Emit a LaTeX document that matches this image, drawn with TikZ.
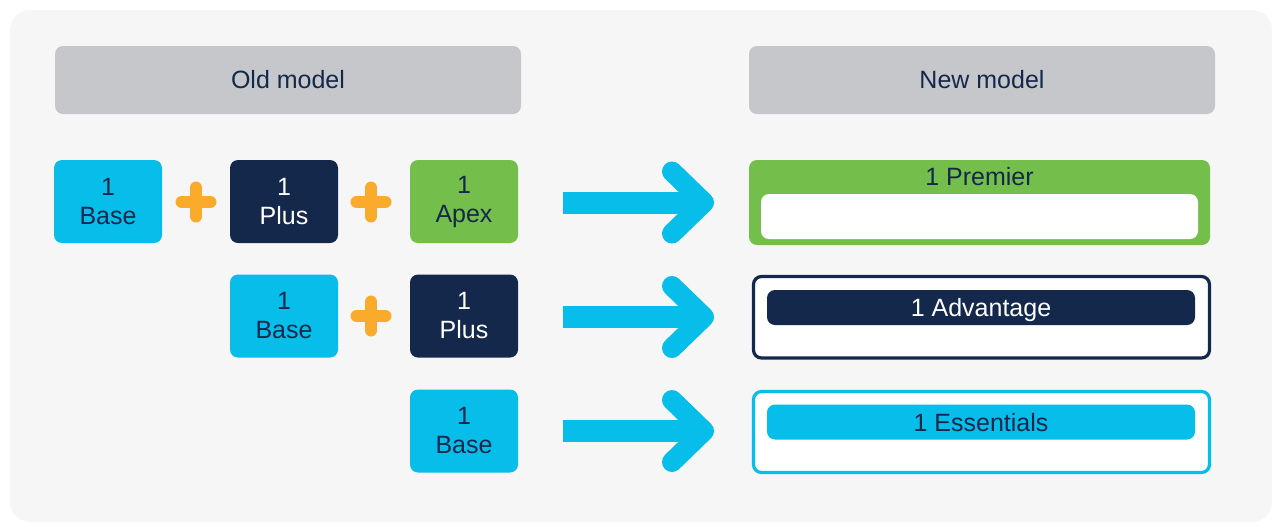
\documentclass[tikz,border=0pt]{standalone}
\usepackage{fontspec}
\setmainfont{Liberation Sans}
\usetikzlibrary{calc}
\definecolor{bggray}{HTML}{F6F6F6}
\definecolor{headgray}{HTML}{C6C7CA}
\definecolor{skyblue}{HTML}{07BDEA}
\definecolor{navyblue}{HTML}{14284B}
\definecolor{leafgreen}{HTML}{74BF4B}
\definecolor{plusorange}{HTML}{FBAB2C}
\tikzset{
	header/.style={fill=headgray, rounded corners=4pt, minimum width=233pt, minimum height=34pt, inner sep=0pt, text=navyblue},
	oldbox/.style={rounded corners=4pt, minimum width=54pt, minimum height=41.5pt, inner sep=0pt, align=center, font=\fontsize{12.5}{14.5}\selectfont},
	barbox/.style={rounded corners=4pt, minimum width=214pt, minimum height=17.5pt, inner sep=0pt, text height=9pt, text depth=0pt},
}
\def\plussign(#1){\draw[line width=6pt, line cap=round, color=plusorange] ($(#1)+(-14.5,0)$) -- ($(#1)+(14.5,0)$) ($(#1)+(0,-14.5)$) -- ($(#1)+(0,14.5)$);}
\def\bigarrow(#1){\draw[line width=11pt, color=skyblue] (#1) -- ($(#1)+(137,0)$);
	\draw[line width=10pt, line cap=round, line join=round, color=skyblue] ($(#1)+(109,-31)$) -- ($(#1)+(141,0)$) -- ($(#1)+(109,31)$);}

\begin{document}
\begin{tikzpicture}[x=0.5pt, y=-0.5pt, font=\fontsize{12.5}{14.5}\selectfont]
			%%%%% START %%%%%
			\useasboundingbox (0, 0) rectangle (1280, 527);
			\fill[bggray, rounded corners=10pt] (10, 10) rectangle (1272, 522);
			
			\node[header] (oldhead) at (288, 80) {Old model};
			\node[header] (newhead) at (982, 80) {New model};
			
			% old model rows
			\node[oldbox, fill=skyblue, text=navyblue] (baseA) at (108, 201.5) {1\\Base};
			\node[oldbox, fill=navyblue, text=white] (plusA) at (284, 201.5) {1\\Plus};
			\node[oldbox, fill=leafgreen, text=navyblue] (apexA) at (464, 201.5) {1\\Apex};
			\plussign(196, 202);
			\plussign(371, 202);
			
			\node[oldbox, fill=skyblue, text=navyblue] (baseB) at (284, 316) {1\\Base};
			\node[oldbox, fill=navyblue, text=white] (plusB) at (464, 316) {1\\Plus};
			\plussign(371, 316);
			
			\node[oldbox, fill=skyblue, text=navyblue] (baseC) at (464, 431) {1\\Base};
			
			% arrows
			\coordinate (arrA) at (563, 202.5);
			\coordinate (arrB) at (563, 317);
			\coordinate (arrC) at (563, 431);
			\bigarrow(arrA);
			\bigarrow(arrB);
			\bigarrow(arrC);
			
			% new model
			\node[fill=leafgreen, rounded corners=4pt, minimum width=230.5pt, minimum height=42.5pt, inner sep=0pt] (premier) at (979.5, 202.5) {};
			\node[fill=white, rounded corners=4pt, minimum width=218.5pt, minimum height=22.5pt, inner sep=0pt] (premierbar) at (979.5, 216.5) {};
			\node[text=navyblue] (premiertext) at (979.5, 177) {1 Premier};
			
			\draw[line width=1.6pt, color=navyblue, fill=white, rounded corners=4pt] (753.5, 276.5) rectangle (1209.5, 358);
			\node[barbox, fill=navyblue, text=white] (advantage) at (981, 307.5) {1 Advantage};
			
			\draw[line width=1.6pt, color=skyblue, fill=white, rounded corners=4pt] (753.5, 391.5) rectangle (1209.5, 472.5);
			\node[barbox, fill=skyblue, text=navyblue] (essentials) at (981, 422) {1 Essentials};
			
			%%%%% END %%%%%
		\end{tikzpicture}
\end{document}
